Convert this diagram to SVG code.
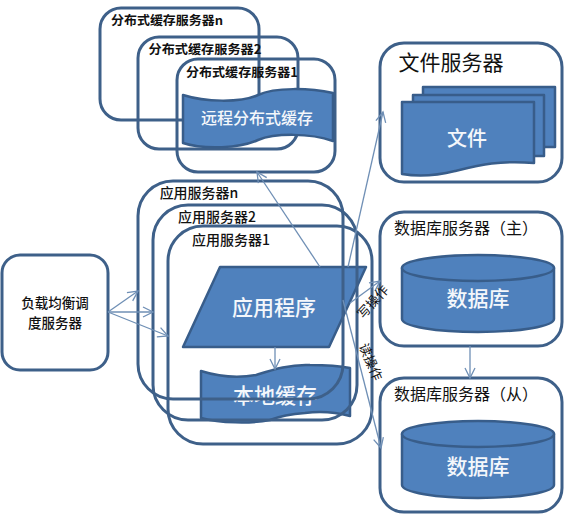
<svg xmlns="http://www.w3.org/2000/svg" width="573" height="524" viewBox="0 0 573 524">
<style>
text{font-family:"Noto Sans CJK SC","Noto Sans",sans-serif;text-anchor:middle}
.box{fill:none;stroke:#3e6089;stroke-width:3}
.shape{fill:#4f81bd;stroke:#385d8a;stroke-width:2.5;stroke-linejoin:round}
.top{fill:#4f81bd;stroke:#385d8a;stroke-width:2.5}
.lbl{fill:#111;font-weight:700;font-size:12.5px}
.app{fill:#111;font-weight:500;font-size:14px}
.big{fill:#111;font-size:16px}
.w{fill:#f4f7fb;font-weight:500}
.c{fill:none;stroke:#6f8fb5;stroke-width:1.3;marker-end:url(#arr)}
.op{fill:#111;font-size:13px}
</style>
<defs>
<marker id="arr" markerUnits="userSpaceOnUse" markerWidth="14" markerHeight="14" refX="11" refY="6" orient="auto">
<path d="M1 1L11 6L1 11" fill="none" stroke="#6f8fb5" stroke-width="1.3"/>
</marker>
</defs>
<rect width="573" height="524" fill="#fff"/>

<g id="dist-server-n"><rect class="box" x="100" y="8" width="159" height="112" rx="21"/><text class="lbl" x="167" y="25" textLength="112" lengthAdjust="spacingAndGlyphs">分布式缓存服务器n</text></g>
<g id="dist-server-2"><rect class="box" x="138" y="37" width="160" height="112" rx="21"/><text class="lbl" x="205" y="54" textLength="113" lengthAdjust="spacingAndGlyphs">分布式缓存服务器2</text></g>
<g id="dist-server-1"><rect class="box" x="177" y="59" width="158" height="113" rx="21"/><text class="lbl" x="242" y="77" textLength="112" lengthAdjust="spacingAndGlyphs">分布式缓存服务器1</text></g>
<g id="remote-cache"><path class="shape" d="M183 95C205 102 240 103 258 95C275 87 310 88 333 93L333 141C310 133 275 133 258 140C240 148 205 150 183 143Z"/><text class="w" x="257" y="124" font-size="16">远程分布式缓存</text></g>

<g id="app-program"><path class="shape" d="M220 267L366 267L329 347L183 347Z"/><text class="w" x="274" y="315" font-size="21">应用程序</text></g>
<g id="local-cache"><path class="shape" d="M201 371C220 377 240 378 256 375C272 370 290 364 310 365C325 365 340 366 350 368L350 416C335 412 320 411 305 413C290 414 280 416 270 420C250 424 220 423 201 418Z"/><text class="w" x="275" y="403" font-size="21">本地缓存</text></g>

<g id="app-server-n"><rect class="box" x="138" y="181" width="205" height="218" rx="35"/><text class="app" x="199" y="198">应用服务器n</text></g>
<g id="app-server-2"><rect class="box" x="153" y="205" width="204" height="215" rx="35"/><text class="app" x="217" y="222">应用服务器2</text></g>
<g id="app-server-1"><rect class="box" x="168" y="226" width="204" height="218" rx="35"/><text class="app" x="231" y="245">应用服务器1</text></g>

<g id="load-balancer"><rect class="box" x="2" y="255" width="106" height="115" rx="18"/><text class="app" style="font-size:13.500px"><tspan x="55" y="307.500">负载均衡调</tspan><tspan x="55" y="327.500">度服务器</tspan></text></g>

<g id="file-server"><rect class="box" x="380" y="43" width="182" height="139" rx="24"/><text x="451" y="70" fill="#111" font-size="21">文件服务器</text>
<rect class="shape" x="423" y="87" width="132" height="60"/><rect class="shape" x="413" y="95" width="131" height="61"/>
<path class="shape" d="M402 102L534 102L534 163C500 160 480 165 455 171C435 176 420 177 402 174Z"/><text class="w" x="467" y="146" font-size="20">文件</text></g>

<g id="db-master"><rect class="box" x="380" y="212" width="182" height="134" rx="24"/><text class="big" x="466" y="234">数据库服务器（主）</text>
<path class="shape" d="M402 268L402 319A76 13 0 0 0 554 319L554 268Z"/><ellipse class="top" cx="478" cy="268" rx="76" ry="13"/><text class="w" x="478" y="306" font-size="21">数据库</text></g>

<g id="db-slave"><rect class="box" x="380" y="378" width="182" height="134" rx="24"/><text class="big" x="466" y="400">数据库服务器（从）</text>
<path class="shape" d="M402 434L402 485A76 13 0 0 0 554 485L554 434Z"/><ellipse class="top" cx="478" cy="434" rx="76" ry="13"/><text class="w" x="478" y="474" font-size="21">数据库</text></g>

<g id="connectors">
<path class="c" d="M108 312L138 291"/>
<path class="c" d="M108 312L153 312"/>
<path class="c" d="M108 312L168 336"/>
<path class="c" d="M320 267L257 172"/>
<path class="c" d="M348 267L383 112"/>
<path class="c" d="M350 303L380 281"/>
<path class="c" d="M343 300L381 448"/>
<path class="c" d="M275 347L275 369"/>
<path class="c" d="M470 346L470 378"/>
</g>
<text class="op" transform="translate(373 302) rotate(-48)" y="4.500">写操作</text>
<text class="op" transform="translate(370.500 362) rotate(67)" y="4.500">读操作</text>
</svg>
